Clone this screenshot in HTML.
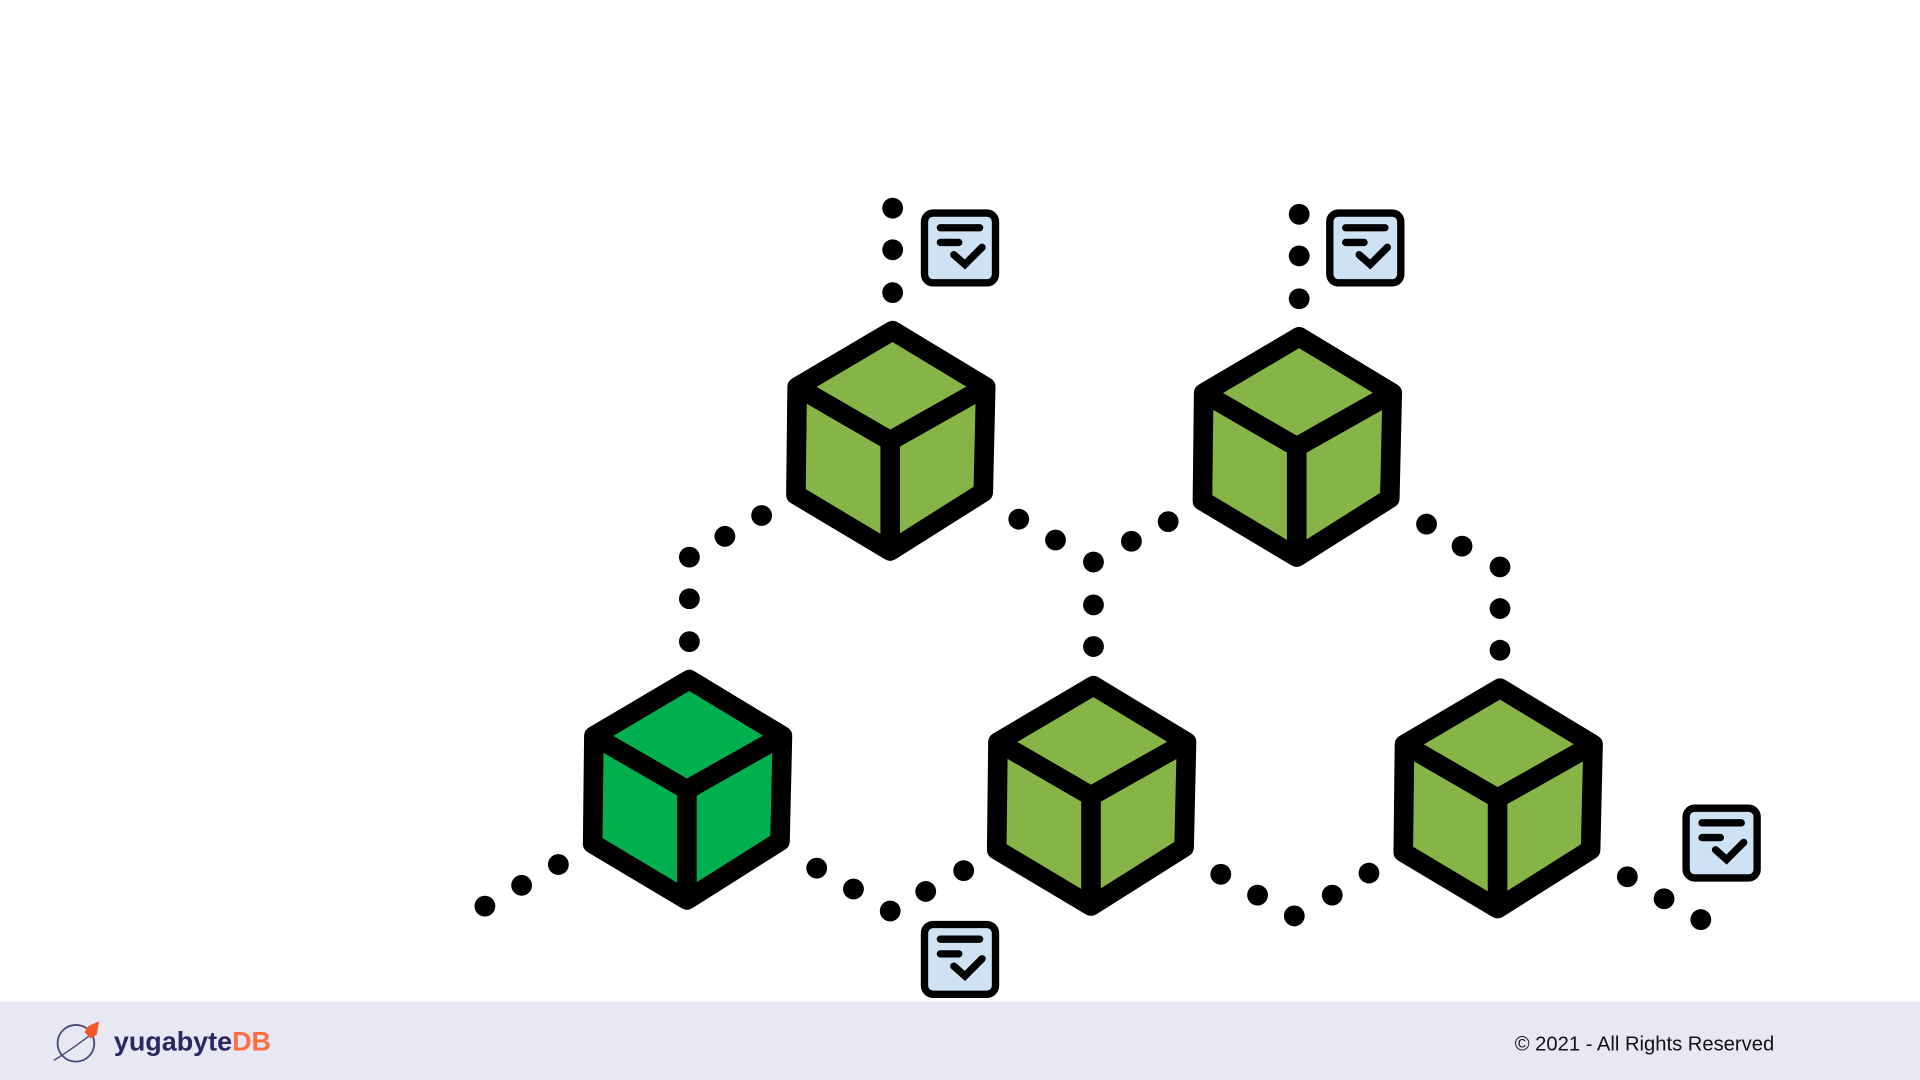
<!DOCTYPE html>
<html><head><meta charset="utf-8"><style>
html,body{margin:0;padding:0;background:#fff;width:1920px;height:1080px;overflow:hidden}
svg{display:block}
</style></head><body>
<svg width="1920" height="1080" viewBox="0 0 1568 882" xmlns="http://www.w3.org/2000/svg">
<defs>
<g id="cube" stroke="#000" stroke-width="16" stroke-linejoin="round">
<polygon points="0,0 76,46 74,132 -2,180 -79,134 -78,46"/>
<polyline points="-78,46 -2,90 76,46" fill="none"/>
<line x1="-2" y1="90" x2="-2" y2="180"/>
</g>
<g id="doc">
<rect x="3" y="3" width="58" height="57" rx="7" fill="#cfe2f3" stroke="#000" stroke-width="6"/>
<g stroke="#000" stroke-width="6" stroke-linecap="round" fill="none">
<line x1="16" y1="15" x2="48" y2="15"/>
<line x1="16" y1="27" x2="31" y2="27"/>
<polyline points="27,37 36,45 50,31"/>
</g>
</g>
</defs>
<use href="#cube" x="729" y="270" fill="#87b447"/>
<use href="#cube" x="1061" y="275" fill="#87b447"/>
<use href="#cube" x="563" y="555" fill="#00b04f"/>
<use href="#cube" x="893" y="560" fill="#87b447"/>
<use href="#cube" x="1225" y="562" fill="#87b447"/>
<use href="#doc" x="752" y="171"/>
<use href="#doc" x="1083" y="171"/>
<use href="#doc" x="1374" y="657"/>
<use href="#doc" x="752" y="752"/>
<g fill="#000">
<circle cx="729" cy="170" r="8.5"/><circle cx="729" cy="204" r="8.5"/><circle cx="729" cy="239" r="8.5"/>
<circle cx="1061" cy="175" r="8.5"/><circle cx="1061" cy="209" r="8.5"/><circle cx="1061" cy="244" r="8.5"/>
<circle cx="622" cy="421" r="8.5"/><circle cx="592" cy="438" r="8.5"/><circle cx="563" cy="455" r="8.5"/><circle cx="563" cy="489" r="8.5"/><circle cx="563" cy="524" r="8.5"/>
<circle cx="832" cy="424" r="8.5"/><circle cx="862" cy="441" r="8.5"/><circle cx="893" cy="459" r="8.5"/><circle cx="893" cy="494" r="8.5"/><circle cx="893" cy="528" r="8.5"/><circle cx="924" cy="442" r="8.5"/><circle cx="954" cy="426" r="8.5"/>
<circle cx="1165" cy="428" r="8.5"/><circle cx="1194" cy="446" r="8.5"/><circle cx="1225" cy="463" r="8.5"/><circle cx="1225" cy="497" r="8.5"/><circle cx="1225" cy="531" r="8.5"/>
<circle cx="396" cy="740" r="8.5"/><circle cx="426" cy="723" r="8.5"/><circle cx="456" cy="706" r="8.5"/>
<circle cx="667" cy="709" r="8.5"/><circle cx="697" cy="726" r="8.5"/><circle cx="727" cy="744" r="8.5"/><circle cx="756" cy="728" r="8.5"/><circle cx="787" cy="711" r="8.5"/>
<circle cx="997" cy="714" r="8.5"/><circle cx="1027" cy="731" r="8.5"/><circle cx="1057" cy="748" r="8.5"/><circle cx="1088" cy="731" r="8.5"/><circle cx="1118" cy="713" r="8.5"/>
<circle cx="1329" cy="716" r="8.5"/><circle cx="1359" cy="734" r="8.5"/><circle cx="1389" cy="751" r="8.5"/>
</g>
<rect x="0" y="818" width="1568" height="64" fill="#e8e8f3"/>
<circle cx="62" cy="852" r="15" fill="none" stroke="#4b4a78" stroke-width="1.5"/>
<path d="M44 866 Q60 856 78 842" stroke="#4b4a78" stroke-width="1.2" fill="none"/>
<path d="M72 838 L81 834 L79 845 L74 848 L69 843 Z" fill="#f05a28"/>
<text x="93" y="858" font-family="Liberation Sans, sans-serif" font-size="22" font-weight="bold" fill="#2b2860">yugabyte<tspan fill="#ff6e42">DB</tspan></text>
<text x="1237" y="858" font-family="Liberation Sans, sans-serif" font-size="16.5" fill="#111">© 2021 - All Rights Reserved</text>
</svg>
</body></html>
